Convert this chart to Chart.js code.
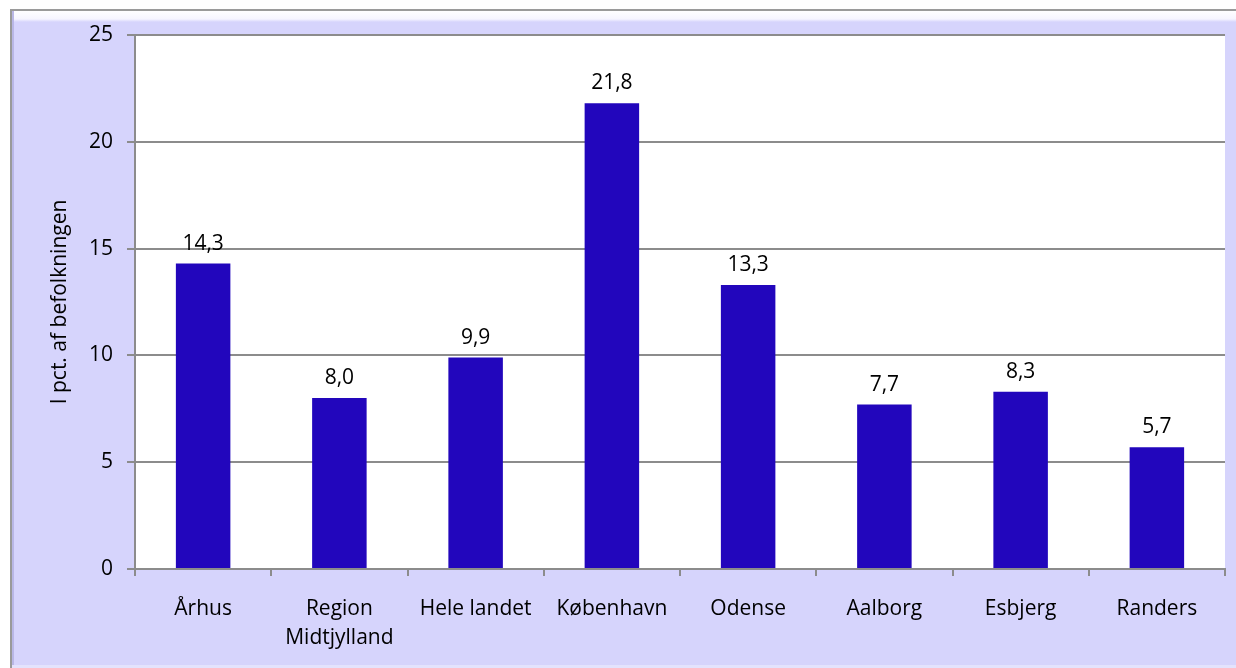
<!DOCTYPE html>
<html>
<head>
<meta charset="utf-8">
<script src="https://cdn.jsdelivr.net/npm/chart.js@4.4.1/dist/chart.umd.min.js"></script>
<style>
  html, body { margin: 0; padding: 0; background: #ffffff; }
  #wrap { width: 1236px; height: 668px; position: relative; }
</style>
</head>
<body>
<div id="wrap"><canvas id="c" width="1236" height="668"></canvas></div>
<script>
const categories = ['Århus', ['Region', 'Midtjylland'], 'Hele landet', 'København', 'Odense', 'Aalborg', 'Esbjerg', 'Randers'];
const values = [14.3, 8.0, 9.9, 21.8, 13.3, 7.7, 8.3, 5.7];
const valueLabels = ['14,3', '8,0', '9,9', '21,8', '13,3', '7,7', '8,3', '5,7'];
const yTicks = [0, 5, 10, 15, 20, 25];
const yTitle = 'I pct. af befolkningen';

const FONT = "'Open Sans', 'DejaVu Sans', sans-serif";
const LAVENDER = 'rgb(214,212,252)';

const backgroundPlugin = {
  id: 'bgbox',
  beforeDraw(chart) {
    const ctx = chart.ctx;
    const W = chart.width, H = chart.height;
    ctx.save();
    ctx.fillStyle = '#ffffff';
    ctx.fillRect(0, 0, W, H);
    ctx.fillStyle = LAVENDER;
    ctx.fillRect(10, 10, W - 10, H - 10);
    const g = ctx.createLinearGradient(0, 10, 0, 22);
    g.addColorStop(0, '#ffffff');
    g.addColorStop(0.75, '#f6f5ff');
    g.addColorStop(1, LAVENDER);
    ctx.fillStyle = g;
    ctx.fillRect(14, 10, W - 14, 12);
    ctx.fillStyle = '#9a9a9a';
    ctx.fillRect(10, 9, W - 10, 2);
    ctx.fillRect(10, 9, 2, H - 9);
    ctx.fillStyle = '#b9b7e6';
    ctx.fillRect(12, 11, 2, H - 11);
    ctx.fillStyle = '#e4e3fd';
    ctx.fillRect(12, H - 3, W - 12, 3);
    const a = chart.chartArea;
    ctx.fillStyle = '#ffffff';
    ctx.fillRect(a.left, a.top, a.right - a.left, a.bottom - a.top);
    ctx.restore();
  }
};

const valueLabelPlugin = {
  id: 'valueLabels',
  afterDatasetsDraw(chart) {
    const ctx = chart.ctx;
    const meta = chart.getDatasetMeta(0);
    ctx.save();
    ctx.font = "21px " + FONT;
    ctx.fillStyle = '#000000';
    ctx.textAlign = 'center';
    ctx.textBaseline = 'middle';
    meta.data.forEach((bar, i) => {
      ctx.fillText(valueLabels[i], bar.x, bar.y - 20);
    });
    ctx.restore();
  }
};

new Chart(document.getElementById('c'), {
  type: 'bar',
  data: {
    labels: categories,
    datasets: [{
      data: values,
      backgroundColor: 'rgb(34,6,188)',
      borderWidth: 0,
      categoryPercentage: 1.0,
      barPercentage: 0.4
    }]
  },
  plugins: [backgroundPlugin, valueLabelPlugin],
  options: {
    responsive: false,
    animation: false,
    devicePixelRatio: 1,
    layout: { padding: { left: 20, top: 35, right: 11, bottom: 0 } },
    plugins: {
      legend: { display: false },
      tooltip: { enabled: false },
      title: { display: false }
    },
    scales: {
      x: {
        afterFit(scale) { scale.height = 99; },
        grid: {
          display: true,
          drawOnChartArea: false,
          drawTicks: true,
          tickLength: 7,
          offset: true,
          color: '#8c8c8c',
          lineWidth: 2
        },
        border: { display: true, color: '#8c8c8c', width: 2 },
        ticks: {
          color: '#000000',
          font: { family: FONT, size: 21, lineHeight: 1.4 },
          padding: 18,
          maxRotation: 0,
          autoSkip: false
        }
      },
      y: {
        min: 0,
        max: 25,
        afterFit(scale) { scale.width = 115; },
        afterBuildTicks(scale) { scale.ticks = yTicks.map(v => ({ value: v })); },
        grid: {
          color: '#8c8c8c',
          lineWidth: 2,
          drawTicks: true,
          tickLength: 8
        },
        border: { display: true, color: '#8c8c8c', width: 2 },
        ticks: {
          color: '#000000',
          font: { family: FONT, size: 21 },
          padding: 14,
          callback: (v) => String(v)
        },
        title: {
          display: true,
          text: yTitle,
          color: '#000000',
          font: { family: FONT, size: 21 },
          padding: { top: 27, bottom: 0 }
        }
      }
    }
  }
});
</script>
</body>
</html>
